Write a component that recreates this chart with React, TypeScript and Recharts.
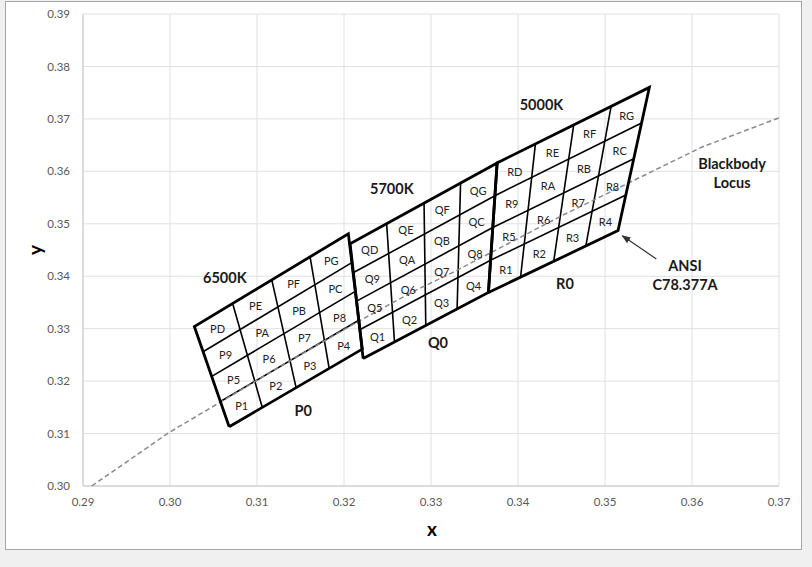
import { ScatterChart, Scatter, XAxis, YAxis, CartesianGrid, ReferenceLine, Label } from "recharts";

type Pt = [number, number];

const xTicks = [0.29, 0.3, 0.31, 0.32, 0.33, 0.34, 0.35, 0.36, 0.37];
const yTicks = [0.3, 0.31, 0.32, 0.33, 0.34, 0.35, 0.36, 0.37, 0.38, 0.39];

// quadrangle edges: left/right run bottom -> top, bottom/top run left -> right
const pLeft: Pt[] = [[0.3068, 0.3113], [0.3058, 0.3161], [0.3048, 0.3209], [0.3038, 0.3256], [0.3028, 0.3304]];
const pRight: Pt[] = [[0.3221, 0.3261], [0.3217, 0.3316], [0.3213, 0.3371], [0.3209, 0.3426], [0.3205, 0.3481]];
const pBottom: Pt[] = [[0.3068, 0.3113], [0.3106, 0.315], [0.3145, 0.3187], [0.3183, 0.3224], [0.3221, 0.3261]];
const pTop: Pt[] = [[0.3028, 0.3304], [0.3072, 0.3348], [0.3117, 0.3393], [0.3161, 0.3437], [0.3205, 0.3481]];

const qLeft: Pt[] = [[0.3222, 0.3243], [0.3218, 0.3298], [0.3215, 0.3353], [0.3211, 0.3407], [0.3207, 0.3462]];
const qRight: Pt[] = [[0.3366, 0.3369], [0.3369, 0.3431], [0.3371, 0.3493], [0.3374, 0.3554], [0.3376, 0.3616]];
const qBottom: Pt[] = [[0.3222, 0.3243], [0.3258, 0.3275], [0.3294, 0.3306], [0.333, 0.3338], [0.3366, 0.3369]];
const qTop: Pt[] = [[0.3207, 0.3462], [0.3249, 0.3501], [0.3292, 0.3539], [0.3334, 0.3578], [0.3376, 0.3616]];

const rLeft: Pt[] = [[0.3366, 0.3369], [0.3369, 0.3431], [0.3371, 0.3493], [0.3374, 0.3554], [0.3376, 0.3616]];
const rRight: Pt[] = [[0.3515, 0.3487], [0.3524, 0.3555], [0.3533, 0.3624], [0.3542, 0.3692], [0.3551, 0.376]];
const rBottom: Pt[] = [[0.3366, 0.3369], [0.3403, 0.3399], [0.3441, 0.3428], [0.3478, 0.3458], [0.3515, 0.3487]];
const rTop: Pt[] = [[0.3376, 0.3616], [0.342, 0.3652], [0.3464, 0.3688], [0.3507, 0.3724], [0.3551, 0.376]];

// bin codes, rows bottom -> top
const binCodes = [
  ["1", "2", "3", "4"],
  ["5", "6", "7", "8"],
  ["9", "A", "B", "C"],
  ["D", "E", "F", "G"],
];

const locus: Pt[] = [
  [0.291, 0.3], [0.2952, 0.3048], [0.2998, 0.3101], [0.3064, 0.3166], [0.3135, 0.3236],
  [0.3221, 0.3318], [0.3281, 0.3372], [0.3326, 0.3408], [0.3451, 0.3516], [0.3611, 0.3646], [0.37, 0.3702],
];

const notes = [
  { x: 0.3063, y: 0.3397, text: ["6500K"] },
  { x: 0.3153, y: 0.3144, text: ["P0"] },
  { x: 0.3255, y: 0.3567, text: ["5700K"] },
  { x: 0.3308, y: 0.3273, text: ["Q0"] },
  { x: 0.3427, y: 0.3728, text: ["5000K"] },
  { x: 0.3454, y: 0.3386, text: ["R0"] },
  { x: 0.3646, y: 0.3596, text: ["Blackbody", "Locus"] },
  { x: 0.3592, y: 0.3402, text: ["ANSI", "C78.377A"] },
];

const arrowFrom: Pt = [0.3559, 0.3433];
const arrowTo: Pt = [0.352, 0.3477];

const groups = [
  { prefix: "P", left: pLeft, right: pRight, bottom: pBottom, top: pTop },
  { prefix: "Q", left: qLeft, right: qRight, bottom: qBottom, top: qTop },
  { prefix: "R", left: rLeft, right: rRight, bottom: rBottom, top: rTop },
];

function cross(a: Pt, b: Pt, c: Pt, d: Pt): Pt {
  const ux = b[0] - a[0], uy = b[1] - a[1];
  const vx = d[0] - c[0], vy = d[1] - c[1];
  const den = ux * vy - uy * vx;
  const t = ((c[0] - a[0]) * vy - (c[1] - a[1]) * vx) / den;
  return [a[0] + t * ux, a[1] + t * uy];
}

const toXY = (p: Pt) => ({ x: p[0], y: p[1] });

const FONT = "Lato, 'Open Sans', sans-serif";

const cellLabels = groups.flatMap((g) => {
  const node = (r: number, c: number) => cross(g.left[r], g.right[r], g.bottom[c], g.top[c]);
  const out: { x: number; y: number; label: string }[] = [];
  binCodes.forEach((row, r) =>
    row.forEach((code, c) => {
      const pts = [node(r, c), node(r, c + 1), node(r + 1, c), node(r + 1, c + 1)];
      out.push({
        x: pts.reduce((s, p) => s + p[0], 0) / 4,
        y: pts.reduce((s, p) => s + p[1], 0) / 4,
        label: g.prefix + code,
      });
    })
  );
  return out;
});

const NoDot = () => <g />;

const CellText = (p: any) => (
  <text x={p.cx} y={p.cy + 1} textAnchor="middle" dominantBaseline="central" fontSize={11} fill="#222" fontFamily={FONT}>
    {p.payload.label}
  </text>
);

const NoteText = (p: any) => {
  const lines: string[] = p.payload.text;
  return (
    <g>
      {lines.map((t, i) => (
        <text
          key={i}
          x={p.cx}
          y={p.cy + (i - (lines.length - 1) / 2) * 19}
          textAnchor="middle"
          dominantBaseline="central"
          fontSize={14.5}
          fontWeight={700}
          fill="#1a1a1a"
          fontFamily={FONT}
        >
          {t}
        </text>
      ))}
    </g>
  );
};

export default function App() {
  return (
    <div style={{ position: "absolute", left: 0, top: 0, width: 812, height: 567, background: "#f0f0f0", fontFamily: FONT }}>
      <div
        style={{
          position: "absolute",
          left: 5,
          top: 1,
          width: 797,
          height: 549,
          boxSizing: "border-box",
          border: "1px solid #a6a6a6",
          background: "#fff",
        }}
      />
      <div style={{ position: "absolute", left: 0, top: 0 }}>
        <ScatterChart width={812} height={567} margin={{ top: 14, right: 33, bottom: 51, left: 33 }}>
          <defs>
            <marker id="arrowHead" markerWidth={9} markerHeight={8} refX={8} refY={4} orient="auto" markerUnits="userSpaceOnUse">
              <path d="M0,0.5 L9,4 L0,7.5 z" fill="#333" />
            </marker>
          </defs>
          <CartesianGrid stroke="#e0e0e0" />
          <XAxis
            type="number"
            dataKey="x"
            domain={[0.29, 0.37]}
            ticks={xTicks}
            tickFormatter={(v: number) => v.toFixed(2)}
            tick={{ fill: "#595959", fontSize: 11.5, fontFamily: FONT }}
            tickLine={false}
            tickSize={0}
            tickMargin={12}
            axisLine={{ stroke: "#c8c8c8" }}
            height={30}
          >
            <Label
              content={() => (
                <text x={432} y={528} textAnchor="middle" dominantBaseline="central" fontSize={19} fontWeight={700} fill="#000" fontFamily={FONT}>
                  x
                </text>
              )}
            />
          </XAxis>
          <YAxis
            type="number"
            dataKey="y"
            domain={[0.3, 0.39]}
            ticks={yTicks}
            tickFormatter={(v: number) => v.toFixed(2)}
            tick={{ fill: "#595959", fontSize: 11.5, fontFamily: FONT }}
            tickLine={false}
            tickSize={0}
            tickMargin={13}
            axisLine={{ stroke: "#c8c8c8" }}
            width={50}
          >
            <Label
              content={() => (
                <text
                  x={34}
                  y={250}
                  textAnchor="middle"
                  dominantBaseline="central"
                  fontSize={19}
                  fontWeight={700}
                  fill="#000"
                  fontFamily={FONT}
                  transform="rotate(-90 34 250)"
                >
                  y
                </text>
              )}
            />
          </YAxis>

          <Scatter
            data={locus.map(toXY)}
            line={{ stroke: "#8a8a8a", strokeWidth: 1.5, strokeDasharray: "5 3" }}
            shape={NoDot}
            isAnimationActive={false}
          />

          {groups.flatMap((g) =>
            [1, 2, 3].map((i) => (
              <ReferenceLine
                key={g.prefix + "r" + i}
                segment={[toXY(g.left[i]), toXY(g.right[i])]}
                stroke="#000"
                strokeWidth={1.6}
              />
            ))
          )}
          {groups.flatMap((g) =>
            [1, 2, 3].map((i) => (
              <ReferenceLine
                key={g.prefix + "c" + i}
                segment={[toXY(g.bottom[i]), toXY(g.top[i])]}
                stroke="#000"
                strokeWidth={1.6}
              />
            ))
          )}

          {groups.map((g) => (
            <Scatter
              key={g.prefix + "outline"}
              data={[g.left[0], g.right[0], g.right[4], g.left[4], g.left[0]].map(toXY)}
              line={{ stroke: "#000", strokeWidth: 2.8, strokeLinejoin: "miter" }}
              shape={NoDot}
              isAnimationActive={false}
            />
          ))}

          <ReferenceLine
            segment={[toXY(arrowFrom), toXY(arrowTo)]}
            stroke="#333"
            strokeWidth={1.2}
            markerEnd="url(#arrowHead)"
          />

          <Scatter data={cellLabels} shape={CellText} isAnimationActive={false} />
          <Scatter data={notes} shape={NoteText} isAnimationActive={false} />
        </ScatterChart>
      </div>
    </div>
  );
}
